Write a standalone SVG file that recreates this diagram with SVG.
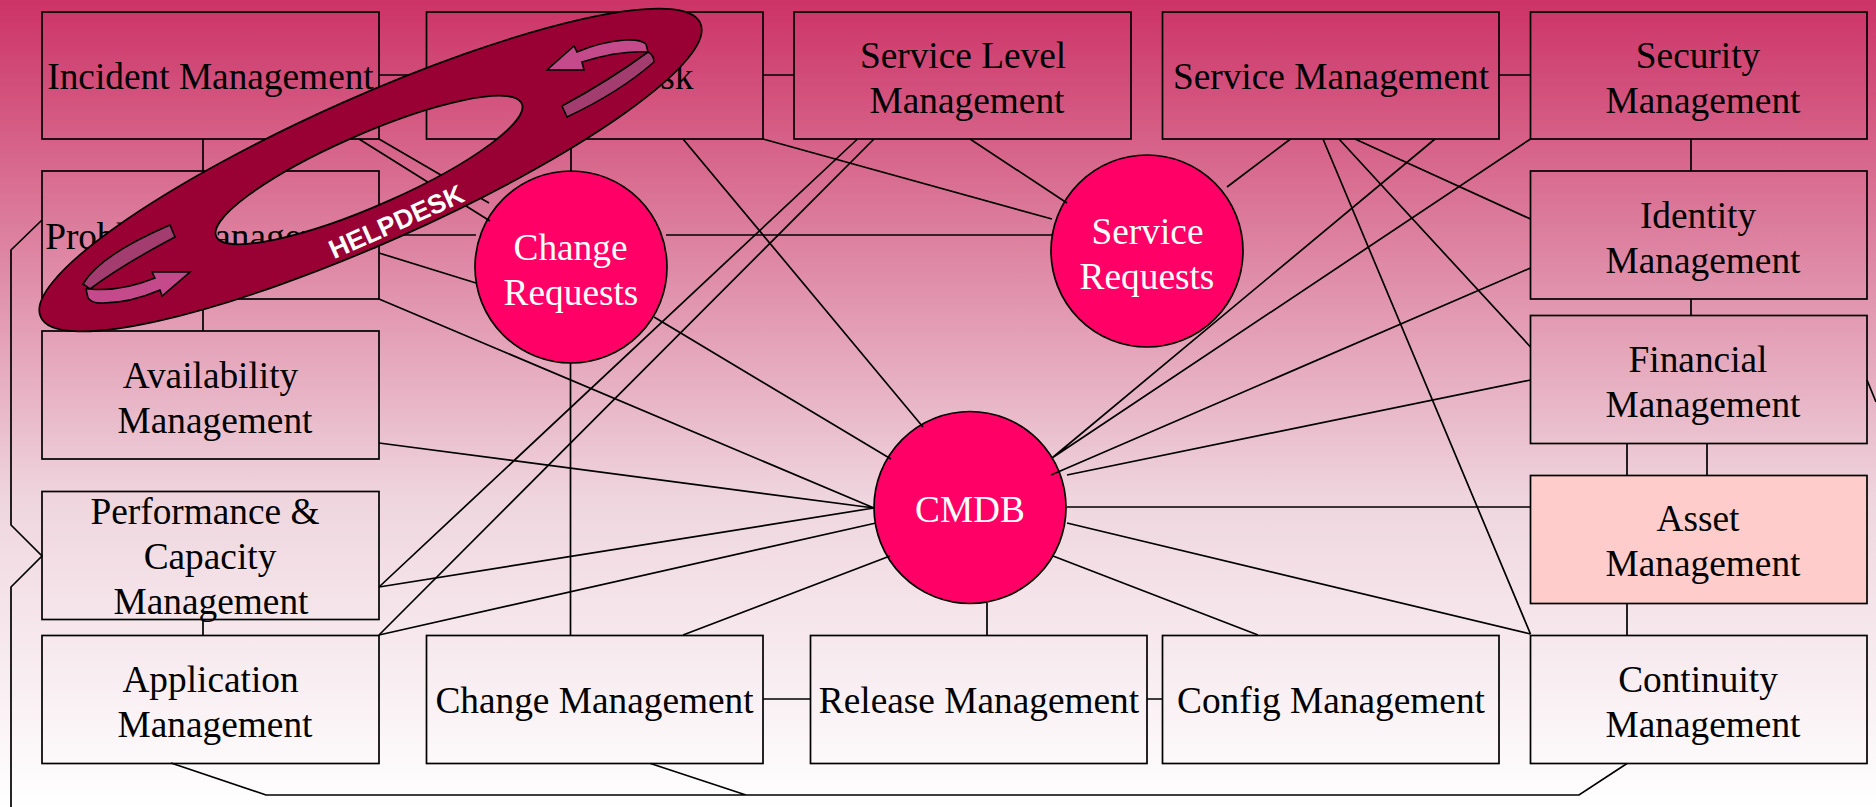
<svg xmlns="http://www.w3.org/2000/svg" width="1876" height="807" viewBox="0 0 1876 807">
<style>
.box{fill:url(#bg);stroke:#000;stroke-width:1.7}
.circ{fill:#ff0066;stroke:#000;stroke-width:1.7}
.t{font-family:"Liberation Serif","Times New Roman",serif;font-size:37.33px;fill:#000;text-anchor:middle}
.w{fill:#fff}
#connectors path{fill:none;stroke:#000;stroke-width:1.7}
.rib{stroke:#000;stroke-width:1.6;stroke-linejoin:miter}
</style>
<defs>
<linearGradient id="bg" gradientUnits="userSpaceOnUse" x1="0" y1="0" x2="0" y2="807">
<stop offset="0" stop-color="#cc3366"/>
<stop offset="0.62" stop-color="#efd6de"/>
<stop offset="1" stop-color="#ffffff"/>
</linearGradient>
</defs>
<rect id="background" width="1876" height="807" fill="url(#bg)"/>
<g id="nodes">
<g id="incident"><rect class="box" x="42" y="12" width="337" height="127"/><text class="t" x="210.5" y="89">Incident Management</text></g>
<g id="servicedesk"><rect class="box" x="426.500" y="12" width="336.500" height="127"/><text class="t" x="594.500" y="89">Service Desk</text></g>
<g id="slm"><rect class="box" x="794" y="12" width="337" height="127"/><text class="t" x="963" y="68">Service Level</text><text class="t" x="967" y="113">Management</text></g>
<g id="servicemgmt"><rect class="box" x="1162.500" y="12" width="336.500" height="127"/><text class="t" x="1331" y="89">Service Management</text></g>
<g id="security"><rect class="box" x="1530.500" y="12" width="336.500" height="127"/><text class="t" x="1698" y="68">Security</text><text class="t" x="1703" y="113">Management</text></g>
<g id="problem"><rect class="box" x="42" y="171" width="337" height="128"/><text class="t" x="210.500" y="249">Problem Management</text></g>
<g id="identity"><rect class="box" x="1530.500" y="171" width="336.500" height="128"/><text class="t" x="1698" y="228">Identity</text><text class="t" x="1703" y="273">Management</text></g>
<g id="financial"><rect class="box" x="1530.500" y="315.500" width="336.500" height="128"/><text class="t" x="1698" y="372">Financial</text><text class="t" x="1703" y="417">Management</text></g>
<g id="availability"><rect class="box" x="42" y="331" width="337" height="128"/><text class="t" x="210.500" y="388">Availability</text><text class="t" x="215" y="433">Management</text></g>
<g id="asset"><rect class="box" style="fill:#ffcccc" x="1530.500" y="475.500" width="336.500" height="128"/><text class="t" x="1698" y="531">Asset</text><text class="t" x="1703" y="576">Management</text></g>
<g id="performance"><rect class="box" x="42" y="491.500" width="337" height="128"/><text class="t" x="205" y="524">Performance &amp;</text><text class="t" x="210" y="569">Capacity</text><text class="t" x="211" y="614">Management</text></g>
<g id="application"><rect class="box" x="42" y="635.500" width="337" height="128"/><text class="t" x="210.500" y="692">Application</text><text class="t" x="215" y="737">Management</text></g>
<g id="change"><rect class="box" x="426.500" y="635.500" width="336.500" height="128"/><text class="t" x="594.500" y="713">Change Management</text></g>
<g id="release"><rect class="box" x="810.500" y="635.500" width="336.500" height="128"/><text class="t" x="979" y="713">Release Management</text></g>
<g id="config"><rect class="box" x="1162.500" y="635.500" width="336.500" height="128"/><text class="t" x="1331" y="713">Config Management</text></g>
<g id="continuity"><rect class="box" x="1530.500" y="635.500" width="336.500" height="128"/><text class="t" x="1698" y="692">Continuity</text><text class="t" x="1703" y="737">Management</text></g>
<g id="changerequests"><circle class="circ" cx="571" cy="267" r="96"/><text class="t w" x="570.500" y="260">Change</text><text class="t w" x="571" y="305">Requests</text></g>
<g id="servicerequests"><circle class="circ" cx="1147" cy="251" r="96"/><text class="t w" x="1147.500" y="244">Service</text><text class="t w" x="1147" y="289">Requests</text></g>
<g id="cmdb"><circle class="circ" cx="970" cy="507.500" r="96"/><text class="t w" x="970" y="522">CMDB</text></g>
</g>
<g id="connectors">
<path d="M379 75H426.500M763 75H794M1499 75H1530.500"/>
<path d="M203 139V171M203 299V331M203 619.500V635.500"/>
<path d="M571 139V171M570.500 363V635.500"/>
<path d="M763 699H810.500M1147 699H1162.500"/>
<path d="M1691 139V171M1691 299V315.500M1627 443.500V475.500M1707 443.500V475.500M1627 603.500V635.500"/>
<path d="M379 235H476M666 235H1052"/>
<path d="M359 139L490 221M379 139L489 203M379 253L476 283"/>
<path d="M379 299L874 508M379 443L874 508M379 587L874 508M379 635L876 523M683 635L890 556"/>
<path d="M379 587L857.500 139M379 635L874 139"/>
<path d="M683 139L923 427M654 317L891 459"/>
<path d="M763 139L1052 219M970 139L1067 203M1290.500 139L1227 187"/>
<path d="M1435 139L1052 458M1530.500 139L1052 458M1530.500 268L1051 475M1530.500 380L1067 475"/>
<path d="M1067 507H1530.500M1530.500 634L1067 523M1258 635L1053 556M987 635V603"/>
<path d="M1323 139L1530.500 634M1339 139L1530.500 347M1355 139L1530.500 219"/>
<path d="M1867 380L1876 402"/>
<path d="M42 220L11 250V525L42 556L11 587V807"/>
<path d="M171 763L266 795H1579L1627 763.500M650.500 763.500L746 795"/>
</g>
<g id="helpdesk-ring">
<path fill="#990033" stroke="#000" stroke-width="1.7" fill-rule="evenodd" d="M700.300 23.200A361 72.500 -24 1 1 40.700 316.800A361 72.500 -24 1 1 700.300 23.200ZM521.200 102.500A166 36 -23.500 1 0 216.800 237.500A166 36 -23.500 1 0 521.200 102.500Z"/>
<path class="rib" fill="#a33d70" d="M170 225L175 237Q122 265 90 289L83 284Q100 255 170 225Z"/>
<path class="rib" fill="#c44a8c" d="M86 289L88 298Q93 304 103 303Q130 303 160 290L162 296L190 272L152 272L155 278Q120 292 90 289Z"/>
<path class="rib" fill="#a33d70" d="M562 106L567 117Q620 92 654 62Q654 55 648 52Q610 80 562 106Z"/>
<path class="rib" fill="#c44a8c" d="M547 70L584 70L582 62Q620 50 648 52L646 44Q640 39 625 40Q600 42 577 52L574 46Z"/>
<text x="400" y="230" transform="rotate(-24 400 230)" text-anchor="middle" font-family="'Liberation Sans',Arial,sans-serif" font-weight="700" font-size="26.500" fill="#fff">HELPDESK</text>
</g>
</svg>
